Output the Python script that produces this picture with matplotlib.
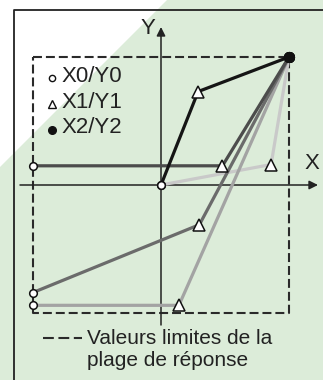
import matplotlib.pyplot as plt
from matplotlib.patches import Polygon

plt.rcParams['font.family'] = ['Liberation Sans', 'DejaVu Sans']

# response curves, in % of the limit range (limits are +-100)
x0 = [0, -100, 0, -100, -100]
y0 = [0, 15, 0, -84, -94]
x1 = [29, 48, 86, 30, 14]
y1 = [73, 15, 16, -31, -94]
x2 = [100, 100, 100, 100, 100]
y2 = [100, 100, 100, 100, 100]
curve_colors = ['#151515', '#4c4c4c', '#c9c9c9', '#6b6b6b', '#a3a3a3']
curve_order = [2, 4, 3, 1, 0]
legend_labels = ['X0/Y0', 'X1/Y1', 'X2/Y2']
limit_label = 'Valeurs limites de la\nplage de réponse'

W, H = 323, 380
S = 1.28            # pixels per unit
OX, OY = 161, 185   # pixel position of the origin


def ux(px):
    return (px - OX) / S


def uy(py):
    return (OY - py) / S


fig = plt.figure(figsize=(W / 100, H / 100), dpi=100)
fig.patch.set_facecolor('#dcecd9')
ax = fig.add_axes([0, 0, 1, 1])
ax.set_xlim(ux(0), ux(W))
ax.set_ylim(uy(H), uy(0))
ax.axis('off')

# white corner top-left
ax.add_patch(Polygon([(0, 1), (167 / W, 1), (0, 1 - 167 / H)],
                     transform=ax.transAxes, facecolor='white',
                     edgecolor='none', zorder=0))

# outer frame (top and left)
ax.plot([ux(14), ux(14), ux(W)], [uy(H), uy(10), uy(10)],
        color='#222222', lw=1.3, zorder=1)

# limit box
ax.plot([-100, 100, 100, -100, -100], [100, 100, -100, -100, 100],
        color='#2a2a2a', lw=1.5, ls=(0, (4.3, 1.9)), zorder=2)

# axes with arrows
arrow = dict(arrowstyle='-|>', lw=1.1, color='#222222', mutation_scale=13,
             shrinkA=0, shrinkB=0)
ax.annotate('', xy=(ux(318), 0), xytext=(ux(20), 0), arrowprops=arrow,
            zorder=3)
ax.annotate('', xy=(0, uy(27)), xytext=(0, uy(325)), arrowprops=arrow,
            zorder=3)
ax.text(ux(148), uy(29), 'Y', ha='center', va='center', fontsize=16,
        color='#222222')
ax.text(ux(312), uy(164), 'X', ha='center', va='center', fontsize=16,
        color='#222222')

# curves
for n, i in enumerate(curve_order):
    ax.plot([x0[i], x1[i], x2[i]], [y0[i], y1[i], y2[i]],
            color=curve_colors[i], lw=2.3, zorder=4 + n * 0.1)
ax.plot(x0, y0, 'o', ms=5.5, mfc='white', mec='#111111', mew=1.1, zorder=6)
ax.plot(x1, y1, '^', ms=8.5, mfc='white', mec='#111111', mew=1.1, zorder=6)
ax.plot(x2, y2, 'o', ms=7, color='#111111', zorder=6)

# legend
markers = [dict(marker='o', mfc='none', ms=4.5),
           dict(marker='^', mfc='none', ms=6),
           dict(marker='o', mfc='#111111', ms=5.5)]
for k, (lab, mk) in enumerate(zip(legend_labels, markers)):
    yc = 76 + k * 26
    ax.plot(ux(52), uy(yc + 2), ls='none', mec='#111111', mew=1.0, **mk)
    ax.text(ux(62), uy(yc), lab, ha='left', va='center', fontsize=16,
            color='#222222')

ax.plot([ux(43), ux(82)], [uy(338), uy(338)], color='#2a2a2a', lw=1.5,
        ls=(0, (5.2, 2.2)))
ax.text(ux(87), uy(350), limit_label, ha='left', va='center', fontsize=15,
        color='#222222', linespacing=1.2)

fig.savefig('out.png', dpi=100, facecolor=fig.get_facecolor())
